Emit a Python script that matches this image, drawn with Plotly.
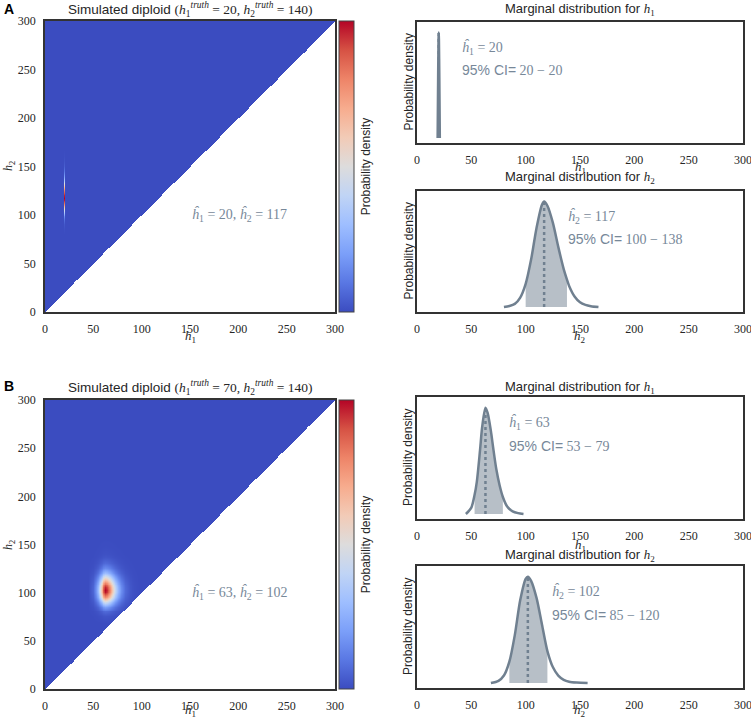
import numpy as np
import plotly.graph_objects as go

W, H = 751, 720
TICKS = [0, 50, 100, 150, 200, 250, 300]
H_MAX = 300

# ---------------- Panel A ----------------
A_TRUTH = [20, 140]
A_H1_X = [19, 20, 21]
A_H1_Y = [0.0, 1.0, 0.0]
A_H2_X = [80, 85, 90, 95, 100, 105, 110, 115, 117, 120, 125, 130, 135, 138, 140, 145, 150, 155, 160, 167]
A_H2_Y = [0.0, 0.01, 0.03, 0.09, 0.22, 0.45, 0.75, 0.97, 1.0, 0.96, 0.8, 0.57, 0.36, 0.26, 0.2, 0.1, 0.045, 0.02, 0.008, 0.0]
A_EST = [20, 117]
A_CI_H1 = [20, 20]
A_CI_H2 = [100, 138]

# ---------------- Panel B ----------------
B_TRUTH = [70, 140]
B_H1_X = [45, 50, 53, 55, 58, 60, 63, 65, 68, 70, 73, 76, 79, 83, 88, 93, 98]
B_H1_Y = [0.0, 0.06, 0.18, 0.3, 0.6, 0.82, 1.0, 0.95, 0.78, 0.63, 0.42, 0.27, 0.16, 0.07, 0.025, 0.008, 0.0]
B_H2_X = [68, 75, 80, 85, 90, 95, 100, 102, 105, 110, 115, 120, 125, 130, 135, 140, 147, 157]
B_H2_Y = [0.0, 0.02, 0.07, 0.2, 0.45, 0.78, 0.98, 1.0, 0.96, 0.8, 0.55, 0.3, 0.15, 0.07, 0.03, 0.012, 0.004, 0.0]
B_EST = [63, 102]
B_CI_H1 = [53, 79]
B_CI_H2 = [85, 120]

COOLWARM = [
    [0.0, "#3b4cc0"], [0.1, "#5977e3"], [0.2, "#7b9ff9"], [0.3, "#9ebeff"],
    [0.4, "#c0d4f5"], [0.5, "#dddcdc"], [0.6, "#f2cbb7"], [0.7, "#f7ac8e"],
    [0.8, "#ee8468"], [0.9, "#d65244"], [1.0, "#b40426"],
]
SLATE = "#708090"
LSLATE = "#778899"
FILL = "rgba(112,128,144,0.5)"
SERIF = "Liberation Serif"
SANS = "Liberation Sans"
DARK = "#262626"


def X(px):
    return px / W


def Y(py):
    return 1 - py / H


def joint(h1x, h1y, h2x, h2y):
    g = np.arange(0, H_MAX + 1)
    m1 = np.interp(g, h1x, h1y, left=0, right=0)
    m2 = np.interp(g, h2x, h2y, left=0, right=0)
    z = np.outer(m2, m1)
    gx, gy = np.meshgrid(g, g)
    z[gy < gx] = np.nan
    return g, z


fig = go.Figure()


def add_heat(h1x, h1y, h2x, h2y, xa, ya, top, bot):
    g, z = joint(h1x, h1y, h2x, h2y)
    fig.add_trace(go.Heatmap(
        x=g, y=g, z=z, xaxis=xa, yaxis=ya, zmin=0, zmax=float(np.nanmax(z)),
        colorscale=COOLWARM, hoverinfo="skip",
        colorbar=dict(
            x=X(339), xanchor="left", xpad=0, ypad=0,
            y=Y((top + bot) / 2), yanchor="middle", len=(bot - top) / H, lenmode="fraction",
            thickness=15, thicknessmode="pixels", outlinecolor="#444", outlinewidth=1,
            showticklabels=False, ticks="",
            title=dict(text="Probability density", side="right",
                       font=dict(family=SANS, size=12, color=DARK)),
        ),
    ))


def add_marg(xs, ys, ci, est, xa, ya):
    lo, hi = ci
    fx = [x for x in xs if lo <= x <= hi]
    fy = [y for x, y in zip(xs, ys) if lo <= x <= hi]
    if len(fx) > 1:
        fig.add_trace(go.Scatter(x=fx, y=fy, xaxis=xa, yaxis=ya, mode="lines",
                                 line=dict(width=0, shape="spline", smoothing=0.8),
                                 fill="tozeroy", fillcolor=FILL, hoverinfo="skip", showlegend=False))
    peak = float(np.interp(est, xs, ys))
    fig.add_trace(go.Scatter(x=[est, est], y=[0, peak], xaxis=xa, yaxis=ya, mode="lines",
                             line=dict(color=SLATE, width=2.5, dash="dot"),
                             hoverinfo="skip", showlegend=False))
    fig.add_trace(go.Scatter(x=xs, y=ys, xaxis=xa, yaxis=ya, mode="lines",
                             line=dict(color=SLATE, width=2.5, shape="spline", smoothing=0.8),
                             hoverinfo="skip", showlegend=False))


add_heat(A_H1_X, A_H1_Y, A_H2_X, A_H2_Y, "x", "y", 21, 312)
add_marg(A_H1_X, A_H1_Y, A_CI_H1, A_EST[0], "x2", "y2")
add_marg(A_H2_X, A_H2_Y, A_CI_H2, A_EST[1], "x3", "y3")
add_heat(B_H1_X, B_H1_Y, B_H2_X, B_H2_Y, "x4", "y4", 400, 689)
add_marg(B_H1_X, B_H1_Y, B_CI_H1, B_EST[0], "x5", "y5")
add_marg(B_H2_X, B_H2_Y, B_CI_H2, B_EST[1], "x6", "y6")

axis_common = dict(showline=True, mirror=True, linecolor="#333", linewidth=1.5,
                   showgrid=False, zeroline=False, ticks="outside", ticklen=5, automargin=False,
                   ticklabeloverflow="allow",
                   tickcolor="rgba(0,0,0,0)", tickfont=dict(family=SERIF, size=12, color=DARK))

heat_x = [X(45), X(335)]
marg_x = [X(417), X(743)]
layout_axes = {
    "xaxis": dict(domain=heat_x, anchor="y", range=[0, H_MAX], tickvals=TICKS),
    "yaxis": dict(domain=[Y(312), Y(21)], anchor="x", range=[0, H_MAX], tickvals=TICKS),
    "xaxis2": dict(domain=marg_x, anchor="y2", range=[0, H_MAX], tickvals=TICKS),
    "yaxis2": dict(domain=[Y(143), Y(22)], anchor="x2", range=[-0.047, 1.10], showticklabels=False),
    "xaxis3": dict(domain=marg_x, anchor="y3", range=[0, H_MAX], tickvals=TICKS),
    "yaxis3": dict(domain=[Y(312), Y(191)], anchor="x3", range=[-0.047, 1.10], showticklabels=False),
    "xaxis4": dict(domain=heat_x, anchor="y4", range=[0, H_MAX], tickvals=TICKS),
    "yaxis4": dict(domain=[Y(689), Y(400)], anchor="x4", range=[0, H_MAX], tickvals=TICKS),
    "xaxis5": dict(domain=marg_x, anchor="y5", range=[0, H_MAX], tickvals=TICKS),
    "yaxis5": dict(domain=[Y(519), Y(397)], anchor="x5", range=[-0.047, 1.10], showticklabels=False),
    "xaxis6": dict(domain=marg_x, anchor="y6", range=[0, H_MAX], tickvals=TICKS),
    "yaxis6": dict(domain=[Y(688), Y(566)], anchor="x6", range=[-0.047, 1.10], showticklabels=False),
}
for k, v in layout_axes.items():
    d = dict(axis_common)
    d.update(v)
    layout_axes[k] = d

ann = []


def text(px, py, t, size=14, family=SANS, color=DARK, angle=0, xanchor="center"):
    ann.append(dict(x=X(px), y=Y(py), xref="paper", yref="paper", text=t, showarrow=False,
                    xanchor=xanchor, yanchor="middle", textangle=angle,
                    font=dict(family=family, size=size, color=color)))


def h(i):
    return "<i>h</i><sub>%d</sub>" % i


def hhat(i):
    return "<i>ĥ</i><sub>%d</sub>" % i


def truth_title(t):
    return ("Simulated diploid <span style=\"font-family:%s\">(<i>h</i><sub>1</sub><sup><i>truth</i></sup> = %d, "
            "<i>h</i><sub>2</sub><sup><i>truth</i></sup> = %d)</span>" % (SERIF, t[0], t[1]))


def marg_title(i):
    return "Marginal distribution for <span style=\"font-family:%s\">%s</span>" % (SERIF, h(i))


# Panel labels and titles
text(2, 9, "<b>A</b>", size=14, xanchor="left", color="black")
text(2, 386, "<b>B</b>", size=14, xanchor="left", color="black")
text(190, 10, truth_title(A_TRUTH), size=13.5)
text(190, 387, truth_title(B_TRUTH), size=13.5)
text(580, 10, marg_title(1), size=13)
text(580, 177, marg_title(2), size=13)
text(580, 387, marg_title(1), size=13)
text(580, 555, marg_title(2), size=13)

# axis titles
text(190, 336, h(1), size=13, family=SERIF)
text(9, 166, h(2), size=12, family=SERIF, angle=-90)
text(190, 710, h(1), size=13, family=SERIF)
text(9, 545, h(2), size=12, family=SERIF, angle=-90)
text(580, 167, h(1), size=13, family=SERIF)
text(580, 336, h(2), size=13, family=SERIF)
text(580, 545, h(1), size=13, family=SERIF)
text(580, 710, h(2), size=13, family=SERIF)
for top, bot in [(22, 143), (191, 312), (397, 519), (566, 688)]:
    text(408, (top + bot) / 2, "Probability density", size=12, angle=-90)


def heat_note(est, xa, ya):
    ann.append(dict(x=150, y=100, xref=xa, yref=ya, showarrow=False, xanchor="left", yanchor="middle",
                    text="%s = %d, %s = %d" % (hhat(1), est[0], hhat(2), est[1]),
                    font=dict(family=SERIF, size=14, color=LSLATE)))


def marg_note(i, est, ci, xa, ya):
    ann.append(dict(x=est + 20, y=0.785, xref=xa, yref=ya + " domain", showarrow=False,
                    xanchor="left", yanchor="middle", text="%s = %d" % (hhat(i), est),
                    font=dict(family=SERIF, size=14, color=LSLATE)))
    ann.append(dict(x=est + 20, y=0.60, xref=xa, yref=ya + " domain", showarrow=False,
                    xanchor="left", yanchor="middle",
                    text="95%% CI=<span style=\"font-family:%s\"> %d − %d</span>" % (SERIF, ci[0], ci[1]),
                    font=dict(family=SANS, size=14, color=LSLATE)))


heat_note(A_EST, "x", "y")
heat_note(B_EST, "x4", "y4")
marg_note(1, A_EST[0], A_CI_H1, "x2", "y2")
marg_note(2, A_EST[1], A_CI_H2, "x3", "y3")
marg_note(1, B_EST[0], B_CI_H1, "x5", "y5")
marg_note(2, B_EST[1], B_CI_H2, "x6", "y6")

fig.update_layout(
    width=W, height=H, margin=dict(l=0, r=0, t=0, b=0, autoexpand=False),
    paper_bgcolor="white", plot_bgcolor="white", showlegend=False,
    annotations=ann, **layout_axes,
)

fig.write_html("out.html", config={"displayModeBar": False},
               post_script="document.body.style.margin='0';document.body.style.overflow='hidden';")
